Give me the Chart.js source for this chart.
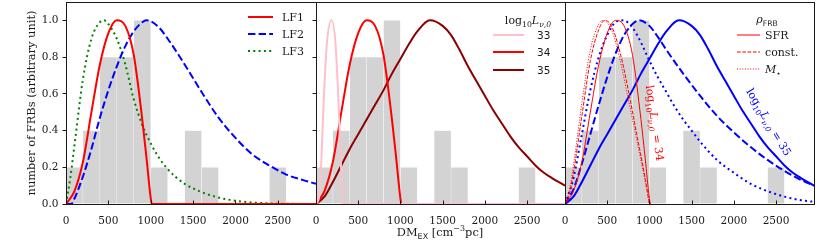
<!DOCTYPE html>
<html>
<head>
<meta charset="utf-8">
<script src="https://cdn.jsdelivr.net/npm/chart.js@4"></script>
<style>
  body { margin: 0; background: #fff; }
  #wrap { position: relative; width: 830px; height: 242px; }
  canvas { position: absolute; top: 0; }
</style>
</head>
<body>
<div id="wrap">
  <canvas id="c1" style="left:0px" width="330" height="242"></canvas>
  <canvas id="c2" style="left:300px" width="279" height="242"></canvas>
  <canvas id="c3" style="left:549px" width="279" height="242"></canvas>
</div>
<script>
// --- Data ---
const xTicks = [0, 500, 1000, 1500, 2000, 2500];
const yTicks = [0, 0.2, 0.4, 0.6, 0.8, 1.0];

// histogram of observed DM_EX (bin centres, 200 wide)
const binCenters = [100, 300, 500, 700, 900, 1100, 1300, 1500, 1700, 1900, 2100, 2300, 2500, 2700, 2900];
const binCounts  = [0.2, 0.4, 0.8, 0.8, 1.0, 0.2, 0, 0.4, 0.2, 0, 0, 0, 0.2, 0, 0];

// panel 1: luminosity functions
const lf1 = [[0,0],[100,0.07],[200,0.23],[300,0.5],[400,0.76],[500,0.93],[600,1.0],[700,0.97],[800,0.81],[900,0.46],[950,0.25],[1000,0.03],[1012,0],[2950,0]];
const lf2 = [[0,0],[60,0],[100,0.03],[200,0.15],[300,0.3],[400,0.47],[500,0.62],[600,0.75],[700,0.86],[800,0.94],[900,0.99],[950,1.0],[1000,0.995],[1100,0.96],[1200,0.9],[1400,0.76],[1600,0.61],[1800,0.47],[2000,0.36],[2200,0.27],[2400,0.21],[2600,0.16],[2800,0.13],[2950,0.11]];
const lf3 = [[0,0],[50,0.14],[100,0.32],[200,0.68],[300,0.9],[400,0.99],[450,1.0],[500,0.98],[600,0.9],[700,0.76],[800,0.57],[900,0.43],[1000,0.33],[1100,0.25],[1200,0.19],[1300,0.145],[1400,0.11],[1600,0.065],[1800,0.035],[2000,0.018],[2200,0.008],[2500,0.002],[2950,0]];

// panel 2: log10 L_nu,0
const l33 = [[0,0],[40,0.05],[60,0.2],[90,0.55],[130,0.88],[185,1.0],[230,0.88],[265,0.57],[295,0.22],[318,0],[2950,0]];
const l34 = lf1;
const l35 = [[0,0],[100,0.04],[200,0.12],[300,0.21],[400,0.3],[500,0.38],[600,0.46],[700,0.54],[800,0.62],[900,0.71],[1000,0.79],[1100,0.87],[1200,0.94],[1350,1.0],[1500,0.97],[1600,0.92],[1700,0.84],[1800,0.75],[1900,0.67],[2000,0.59],[2100,0.51],[2200,0.44],[2300,0.37],[2400,0.31],[2500,0.26],[2600,0.21],[2700,0.17],[2800,0.14],[2950,0.1]];

// panel 3: rho_FRB models
const sfr34   = lf1.slice(0, 13);
const const34 = [[0,0],[50,0.05],[100,0.17],[200,0.48],[300,0.78],[400,0.95],[470,1.0],[550,0.97],[650,0.83],[750,0.62],[850,0.38],[950,0.14],[1000,0]];
const mstar34 = [[0,0],[50,0.07],[100,0.21],[200,0.55],[300,0.84],[400,0.98],[450,1.0],[550,0.95],[650,0.79],[750,0.57],[850,0.35],[950,0.12],[1000,0]];
const sfr35   = l35;
const const35 = [[0,0],[100,0.08],[200,0.22],[300,0.38],[400,0.54],[500,0.69],[600,0.82],[700,0.92],[800,0.98],[880,1.0],[1000,0.97],[1100,0.91],[1200,0.84],[1400,0.71],[1600,0.59],[1800,0.48],[2000,0.39],[2200,0.31],[2400,0.24],[2600,0.18],[2800,0.13],[2950,0.1]];
const mstar35 = [[0,0],[100,0.14],[200,0.38],[300,0.62],[400,0.8],[500,0.92],[600,0.99],[690,1.0],[800,0.96],[900,0.88],[1000,0.78],[1100,0.69],[1200,0.61],[1300,0.53],[1400,0.46],[1500,0.4],[1600,0.34],[1800,0.24],[2000,0.17],[2200,0.11],[2400,0.07],[2600,0.04],[2800,0.02],[2950,0.012]];

// --- Styles ---
const SERIF = "'DejaVu Serif', serif";
const SANS = "'DejaVu Sans', sans-serif";
const INK = '#1a1a1a';
const DASH = [7.4, 3.2], DOT = [2, 3.3];
const THIN_DASH = [3.7, 1.6], THIN_DOT = [1, 1.65];

// --- Text with sub/superscripts ---
function runFont(r, size) {
  const s = (r.sub || r.sup) ? size * 0.7 : size;
  return (r.it ? 'italic ' : '') + s + 'px ' + (r.sans ? SANS : SERIF);
}

function drawRuns(ctx, runs, x, y, size, color, align) {
  ctx.save();
  ctx.fillStyle = color;
  ctx.textBaseline = 'alphabetic';
  ctx.textAlign = 'left';
  const widths = runs.map(r => { ctx.font = runFont(r, size); return ctx.measureText(r.t).width; });
  const total = widths.reduce((a, b) => a + b, 0);
  let cx = align === 'center' ? x - total / 2 : (align === 'right' ? x - total : x);
  const base = y + size * 0.36;
  runs.forEach((r, i) => {
    ctx.font = runFont(r, size);
    const dy = r.sub ? size * 0.28 : (r.sup ? -size * 0.42 : 0);
    ctx.fillText(r.t, cx, base + dy);
    cx += widths[i];
  });
  ctx.restore();
}

const logL = [{t: 'log'}, {t: '10', sub: true}, {t: 'L', it: true}, {t: 'ν,0', sub: true, it: true}];

// --- Frame, inward x ticks, legends, notes ---
const panelPlugin = {
  id: 'panel',
  afterDraw(chart, args, opts) {
    const {ctx, chartArea: a} = chart;
    const xs = chart.scales.x;
    const off = opts.offset;
    ctx.save();
    ctx.strokeStyle = INK;
    ctx.lineWidth = 1;
    ctx.strokeRect(Math.round(a.left) + 0.5, Math.round(a.top) + 0.5, Math.round(a.right - a.left), Math.round(a.bottom - a.top));
    xTicks.forEach(v => {
      const px = Math.round(xs.getPixelForValue(v)) + 0.5;
      ctx.beginPath();
      ctx.moveTo(px, a.bottom);
      ctx.lineTo(px, a.bottom - 3.5);
      ctx.stroke();
    });
    ctx.restore();

    const lg = opts.legend;
    if (lg) {
      if (lg.title) drawRuns(ctx, lg.title, lg.titleX - off, lg.titleY, 11, INK, 'center');
      lg.items.forEach((it, i) => {
        const ds = chart.data.datasets[it.ds];
        const y = lg.rows[i];
        ctx.save();
        ctx.strokeStyle = ds.borderColor;
        ctx.lineWidth = ds.borderWidth;
        ctx.setLineDash(ds.borderDash || []);
        ctx.beginPath();
        ctx.moveTo(lg.x0 - off, y);
        ctx.lineTo(lg.x1 - off, y);
        ctx.stroke();
        ctx.restore();
        drawRuns(ctx, it.text, lg.textX - off, y, lg.size || 11, INK, 'left');
      });
    }

    (opts.notes || []).forEach(n => {
      ctx.save();
      ctx.translate(n.x - off, n.y);
      ctx.rotate(n.angle * Math.PI / 180);
      drawRuns(ctx, n.runs, 0, 0, n.size, n.color, 'center');
      ctx.restore();
    });
  }
};

function line(points, color, width, dash) {
  return {
    data: points.map(([x, y]) => ({x, y})),
    borderColor: color,
    borderWidth: width,
    borderDash: dash || [],
    pointRadius: 0,
    fill: false,
    cubicInterpolationMode: 'monotone'
  };
}

function histBars() {
  return {
    type: 'bar',
    data: binCenters.map((c, i) => ({x: c, y: binCounts[i]})),
    backgroundColor: '#d3d3d3',
    borderColor: 'rgba(255,255,255,0.22)',
    borderWidth: 0.5,
    borderSkipped: 'start',
    barPercentage: 1,
    categoryPercentage: 1,
    order: 100
  };
}

function makePanel(id, lines, opts, first) {
  return new Chart(document.getElementById(id), {
    type: 'line',
    data: { datasets: [...lines, histBars()] },
    options: {
      responsive: false,
      animation: false,
      events: [],
      layout: { padding: { left: first ? 0 : 16, right: 14, top: 2, bottom: 0 } },
      plugins: { legend: { display: false }, tooltip: { enabled: false }, panel: opts },
      scales: {
        x: {
          type: 'linear', min: 0, max: 2950, offset: false,
          afterBuildTicks: s => { s.ticks = xTicks.map(v => ({value: v})); },
          afterFit: s => { s.height = 38; s.paddingLeft = 0; s.paddingRight = 0; },
          grid: { display: false },
          border: { display: false },
          ticks: { autoSkip: false, maxRotation: 0, padding: 3, color: INK, font: { family: SERIF, size: 10.5 }, callback: v => String(v) }
        },
        y: {
          min: 0, max: 1.1,
          afterBuildTicks: s => { s.ticks = yTicks.map(v => ({value: v})); },
          afterFit: s => { s.width = first ? 66 : 0; s.paddingTop = 0; s.paddingBottom = 0; },
          grid: { drawOnChartArea: false, drawTicks: true, tickLength: 3.5, color: INK },
          border: { display: false },
          ticks: { display: first, padding: 4, color: INK, font: { family: SERIF, size: 10.5 }, callback: v => v.toFixed(1) },
          title: { display: first, text: 'number of FRBs (arbitrary unit)', color: INK, font: { family: SERIF, size: 11.4 }, padding: { top: 25, bottom: 0 } }
        }
      }
    },
    plugins: [panelPlugin]
  });
}

// --- Panel 1 ---
makePanel('c1', [
  line(lf1, '#ff0000', 2),
  line(lf2, '#0000ff', 2, DASH),
  line(lf3, '#008000', 2, DOT)
], {
  offset: 0,
  legend: {
    x0: 248, x1: 273, textX: 282, rows: [17, 34, 51],
    items: [{ds: 0, text: [{t: 'LF1'}]}, {ds: 1, text: [{t: 'LF2'}]}, {ds: 2, text: [{t: 'LF3'}]}]
  }
}, true);

// --- Panel 2 ---
makePanel('c2', [
  line(l33, '#ffc0cb', 2),
  line(l34, '#ff0000', 2),
  line(l35, '#8b0000', 2)
], {
  offset: 300,
  legend: {
    title: logL, titleX: 528, titleY: 20,
    x0: 493, x1: 524, textX: 537, rows: [35, 52, 70], size: 10.5,
    items: [{ds: 0, text: [{t: '33', sans: true}]}, {ds: 1, text: [{t: '34', sans: true}]}, {ds: 2, text: [{t: '35', sans: true}]}]
  },
  notes: [{
    x: 440, y: 232, angle: 0, size: 11.4, color: INK,
    runs: [{t: 'DM'}, {t: 'EX', sub: true, sans: true}, {t: ' [cm'}, {t: '−3', sup: true}, {t: 'pc]'}]
  }]
}, false);

// --- Panel 3 ---
makePanel('c3', [
  line(sfr34, '#ff0000', 1),
  line(const34, '#ff0000', 1, THIN_DASH),
  line(mstar34, '#ff0000', 1, THIN_DOT),
  line(sfr35, '#0000ff', 2),
  line(const35, '#0000ff', 2, DASH),
  line(mstar35, '#0000ff', 2, DOT)
], {
  offset: 549,
  legend: {
    title: [{t: 'ρ', it: true}, {t: 'FRB', sub: true, sans: true}], titleX: 767, titleY: 19,
    x0: 737, x1: 760, textX: 765, rows: [35, 52, 69],
    items: [{ds: 0, text: [{t: 'SFR'}]}, {ds: 1, text: [{t: 'const.'}]}, {ds: 2, text: [{t: 'M', it: true}, {t: '⋆', sub: true}]}]
  },
  notes: [
    {x: 655, y: 123, angle: 82, size: 11, color: '#ff0000', runs: [...logL, {t: ' = 34'}]},
    {x: 769, y: 122, angle: 59, size: 11, color: '#0000ff', runs: [...logL, {t: ' = 35'}]}
  ]
}, false);
</script>
</body>
</html>
